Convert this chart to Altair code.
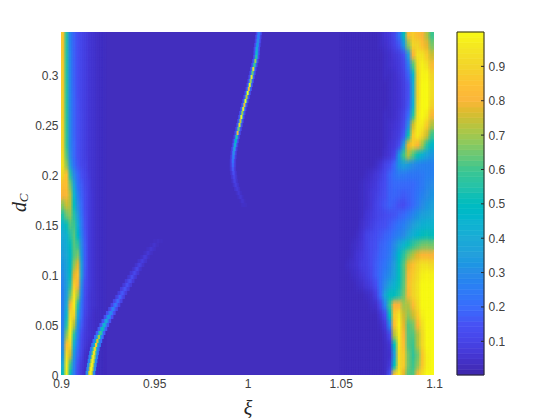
import altair as alt
import pandas as pd

BG = 0.03
ROW_D = [0.34 - 0.01 * i for i in range(35)]
LEFT_START, LEFT_STEP = 0.900, 0.002
RIGHT_START, RIGHT_STEP = 1.05, 0.0025

LEFT = [
 [.87,.55,.27,.18,.14,.11,.09,.07,.055,.045,.04,.035],
 [.87,.55,.27,.18,.14,.11,.09,.07,.055,.045,.04,.035],
 [.87,.55,.28,.18,.14,.11,.09,.07,.055,.045,.04,.035],
 [.88,.55,.28,.18,.14,.11,.09,.07,.055,.045,.04,.035],
 [.88,.55,.28,.18,.14,.11,.09,.07,.055,.045,.04,.035],
 [.88,.56,.28,.18,.14,.11,.09,.07,.055,.045,.04,.035],
 [.89,.56,.28,.19,.14,.11,.09,.07,.055,.045,.04,.035],
 [.89,.56,.28,.19,.15,.11,.09,.07,.055,.045,.04,.035],
 [.89,.57,.29,.19,.15,.12,.09,.07,.055,.045,.04,.035],
 [.90,.57,.29,.19,.15,.12,.09,.07,.055,.045,.04,.035],
 [.90,.58,.29,.19,.15,.12,.09,.07,.055,.045,.04,.035],
 [.90,.58,.29,.20,.15,.12,.09,.07,.055,.045,.04,.035],
 [.92,.62,.30,.20,.15,.12,.09,.07,.055,.045,.04,.035],
 [.94,.68,.35,.22,.16,.12,.10,.07,.055,.045,.04,.035],
 [.90,.85,.55,.30,.20,.15,.11,.08,.055,.045,.04,.035],
 [.84,.84,.65,.38,.22,.17,.12,.09,.055,.045,.04,.035],
 [.80,.82,.72,.45,.27,.18,.13,.09,.06,.045,.04,.035],
 [.68,.75,.72,.50,.30,.20,.13,.09,.06,.045,.04,.035],
 [.55,.65,.68,.55,.35,.22,.14,.09,.06,.045,.04,.035],
 [.45,.52,.62,.60,.42,.25,.15,.09,.06,.045,.04,.035],
 [.40,.45,.55,.62,.48,.27,.16,.09,.06,.045,.04,.035],
 [.38,.42,.50,.62,.58,.30,.17,.09,.06,.045,.04,.035],
 [.35,.40,.47,.62,.66,.33,.17,.09,.06,.045,.04,.035],
 [.33,.38,.47,.68,.78,.35,.17,.09,.06,.045,.04,.035],
 [.30,.37,.50,.78,.85,.35,.16,.09,.06,.045,.04,.035],
 [.28,.36,.55,.88,.80,.30,.14,.09,.06,.045,.04,.035],
 [.27,.36,.65,.95,.70,.27,.13,.08,.055,.045,.04,.035],
 [.27,.40,.82,.97,.55,.22,.12,.08,.055,.045,.04,.035],
 [.27,.45,.92,.90,.40,.20,.10,.07,.05,.04,.04,.035],
 [.27,.55,.97,.72,.32,.17,.09,.06,.05,.04,.035,.03],
 [.28,.68,.97,.55,.27,.14,.08,.06,.05,.04,.035,.03],
 [.30,.85,.90,.42,.22,.12,.07,.05,.04,.04,.035,.03],
 [.33,.93,.75,.33,.18,.10,.05,.04,.04,.04,.035,.03],
 [.40,.97,.60,.28,.15,.08,.05,.04,.04,.04,.035,.03],
 [.50,.97,.50,.25,.13,.07,.04,.04,.04,.04,.035,.03],
]

RIGHT = [
 [.03,.03,.03,.03,.03,.03,.03,.03,.04,.06,.08,.12,.22,.50,.83,.88,.84,.80,.72,.60],
 [.03,.03,.03,.03,.03,.03,.03,.03,.04,.05,.07,.10,.16,.33,.68,.90,.90,.85,.78,.66],
 [.03,.03,.03,.03,.03,.03,.03,.03,.03,.04,.05,.07,.09,.15,.35,.80,.95,.95,.88,.75],
 [.03,.03,.03,.03,.03,.03,.03,.03,.03,.04,.05,.06,.08,.12,.25,.62,.93,.98,.95,.83],
 [.03,.03,.03,.03,.03,.03,.03,.03,.03,.04,.04,.05,.07,.10,.18,.45,.90,.99,.99,.90],
 [.03,.03,.03,.03,.03,.03,.03,.03,.03,.03,.04,.05,.06,.09,.15,.40,.90,1.0,1.0,.93],
 [.03,.03,.03,.03,.03,.03,.03,.03,.03,.03,.04,.05,.06,.09,.15,.40,.90,1.0,1.0,.93],
 [.03,.03,.03,.03,.03,.03,.03,.03,.03,.03,.04,.05,.06,.09,.16,.42,.92,1.0,1.0,.90],
 [.03,.03,.03,.03,.03,.03,.03,.03,.03,.04,.04,.05,.07,.11,.20,.55,.95,1.0,.97,.82],
 [.03,.03,.03,.03,.03,.03,.03,.03,.03,.04,.05,.06,.08,.13,.30,.75,.97,.97,.88,.72],
 [.03,.03,.03,.03,.03,.03,.03,.03,.03,.04,.05,.07,.09,.17,.52,.88,.97,.90,.75,.60],
 [.03,.03,.03,.03,.03,.03,.03,.03,.03,.04,.06,.08,.13,.35,.78,.88,.82,.70,.56,.47],
 [.03,.03,.03,.03,.03,.03,.03,.03,.03,.05,.07,.11,.32,.60,.72,.62,.52,.44,.37,.33],
 [.03,.03,.03,.03,.03,.03,.03,.04,.06,.10,.14,.20,.32,.36,.34,.30,.28,.27,.27,.27],
 [.03,.03,.03,.03,.03,.04,.05,.07,.09,.13,.18,.22,.25,.25,.24,.24,.24,.25,.26,.27],
 [.03,.03,.03,.03,.04,.05,.06,.08,.11,.14,.18,.20,.20,.20,.20,.20,.22,.25,.28,.30],
 [.03,.03,.03,.03,.04,.05,.07,.09,.12,.15,.18,.19,.18,.17,.18,.20,.23,.27,.30,.32],
 [.03,.03,.03,.03,.04,.05,.07,.10,.13,.16,.18,.17,.15,.14,.17,.20,.25,.30,.33,.36],
 [.03,.03,.03,.03,.04,.06,.08,.10,.12,.13,.15,.16,.18,.20,.24,.28,.32,.36,.38,.40],
 [.03,.03,.03,.03,.05,.07,.09,.12,.14,.15,.17,.20,.23,.26,.30,.35,.40,.43,.45,.45],
 [.03,.03,.03,.04,.06,.10,.12,.14,.16,.18,.20,.24,.27,.30,.36,.42,.46,.50,.52,.50],
 [.03,.03,.04,.05,.07,.10,.13,.15,.18,.20,.23,.30,.38,.45,.52,.58,.62,.65,.66,.65],
 [.03,.03,.04,.06,.08,.10,.13,.16,.19,.21,.25,.33,.47,.57,.66,.72,.78,.82,.82,.80],
 [.03,.04,.05,.06,.09,.10,.13,.17,.20,.23,.28,.35,.50,.62,.78,.85,.90,.95,.95,.92],
 [.03,.03,.04,.05,.07,.09,.12,.17,.21,.26,.31,.38,.50,.62,.82,.88,.93,.98,.99,.98],
 [.03,.03,.03,.04,.05,.07,.09,.14,.22,.30,.38,.44,.52,.63,.84,.90,.95,1.0,1.0,1.0],
 [.03,.03,.03,.03,.03,.04,.05,.09,.20,.38,.50,.50,.55,.65,.82,.90,.95,1.0,1.0,1.0],
 [.03,.03,.03,.03,.03,.03,.04,.05,.12,.28,.58,.80,.80,.70,.72,.83,.93,1.0,1.0,1.0],
 [.03,.03,.03,.03,.03,.03,.03,.03,.06,.14,.50,.88,.95,.75,.68,.75,.88,.98,1.0,1.0],
 [.03,.03,.03,.03,.03,.03,.03,.03,.04,.08,.28,.85,.98,.78,.62,.66,.82,.95,1.0,1.0],
 [.03,.03,.03,.03,.03,.03,.03,.03,.03,.05,.12,.72,.97,.82,.62,.62,.72,.92,1.0,1.0],
 [.03,.03,.03,.03,.03,.03,.03,.03,.03,.04,.06,.50,.95,.85,.62,.60,.72,.92,1.0,1.0],
 [.03,.03,.03,.03,.03,.03,.03,.03,.03,.04,.05,.35,.93,.88,.65,.58,.65,.87,.98,1.0],
 [.03,.03,.03,.03,.03,.03,.03,.03,.03,.04,.07,.50,.92,.88,.65,.60,.68,.87,.98,1.0],
 [.03,.03,.03,.03,.03,.03,.03,.03,.03,.04,.15,.85,.97,.78,.62,.62,.82,.95,1.0,1.0],
]

CENTER_D = [.340,.336,.332,.328,.324,.320,.316,.312,.308,.304,.300,.296,.292,.288,.284,.280,.276,.272,.268,.264,.260,.256,.252,.248,.244,.240,.236,.232,.228,.224,.220,.216,.212,.208,.204,.200,.196,.192,.188,.184,.180,.176,.172,.168]
CENTER_XI = [1.0061,1.0058,1.0056,1.0053,1.0050,1.0049,1.0047,1.0042,1.0037,1.0031,1.0027,1.0022,1.0017,1.0012,1.0007,1.0001,.9995,.9989,.9983,.9977,.9972,.9967,.9962,.9957,.9952,.9947,.9942,.9937,.9933,.9929,.9926,.9924,.9922,.9922,.9922,.9925,.9928,.9931,.9937,.9944,.9953,.9962,.9973,.9981]
CENTER_CORE = [.25,.27,.30,.33,.38,.45,.55,.70,.60,.90,.65,.95,.70,.98,.80,1.0,.75,.98,.80,.95,.70,.98,.75,.90,.65,.80,.55,.48,.42,.35,.30,.26,.22,.19,.16,.13,.10,.09,.08,.07,.06,.055,.05,.04]
CENTER_MID = [.20,.20,.22,.24,.26,.28,.30,.32,.32,.35,.32,.35,.32,.35,.33,.35,.32,.35,.33,.35,.32,.35,.32,.33,.30,.30,.27,.25,.23,.20,.18,.16,.14,.12,.10,.09,.08,.07,.065,.06,.05,.05,.045,.04]
CENTER_HALO = [.10,.10,.10,.11,.12,.12,.12,.12,.12,.12,.12,.12,.12,.12,.12,.12,.12,.12,.12,.12,.12,.12,.12,.12,.11,.11,.10,.10,.09,.09,.08,.08,.07,.07,.06,.06,.055,.05,.05,.045,.04,.04,.035,.035]

LOWER_D = [.000,.004,.008,.012,.016,.020,.024,.028,.032,.036,.040,.044,.048,.052,.056,.060,.064,.068,.072,.076,.080,.084,.088,.092,.096,.100,.104,.108,.112,.116,.120,.124,.128,.132]
LOWER_XI = [.9158,.9162,.9165,.9169,.9173,.9177,.9181,.9188,.9195,.9203,.9212,.9222,.9232,.9243,.9255,.9267,.9279,.9292,.9304,.9317,.9329,.9342,.9355,.9368,.9381,.9394,.9407,.9421,.9436,.9451,.9467,.9483,.9500,.9520]
LOWER_CORE = [.98,.98,.97,.96,.95,.93,.90,.85,.78,.70,.60,.52,.45,.38,.33,.29,.26,.23,.20,.18,.16,.15,.14,.13,.12,.11,.10,.09,.08,.07,.06,.055,.05,.04]
LOWER_MID = [.72,.72,.70,.68,.66,.62,.58,.52,.48,.44,.38,.33,.30,.27,.24,.21,.19,.17,.15,.14,.12,.11,.10,.10,.09,.08,.08,.07,.06,.06,.05,.05,.04,.035]
LOWER_HALO = [.30,.30,.30,.28,.27,.26,.25,.24,.22,.20,.18,.17,.16,.15,.14,.13,.11,.10,.10,.09,.08,.08,.07,.07,.06,.06,.05,.05,.05,.04,.04,.04,.035,.035]

CMAP_STOPS = [0,.06,.11,.15,.2,.25,.3,.35,.4,.45,.5,.55,.6,.65,.7,.75,.78,.8,.85,.9,.95,1]
CMAP_COLORS = ["#3e26a8","#4537d5","#4747eb","#4752f4","#3a6cfc","#2f7cf6","#2b8ce8","#249fdc","#1dabd6","#0fb5d0","#05bcbf","#27c2a8","#3ec690","#72c870","#a2c84f","#ccc035","#e8b92f","#fbb63c","#fdc132","#f3d52a","#f4e423","#f9fb15"]
XTICKS = [0.9, 0.95, 1, 1.05, 1.1]
YTICKS = [0, 0.05, 0.1, 0.15, 0.2, 0.25, 0.3]
CTICKS = [0.1,0.2,0.3,0.4,0.5,0.6,0.7,0.8,0.9]
YMAX = 0.343
CMIN = 0.002

# Each table cell is drawn several times, slightly shifted and translucent, so the steps soften.
SHIFTS = [(-.25,-.4,1/2),(.25,-.24,1/3),(-.25,-.08,1/4),(.25,.08,1/5),(-.25,.24,1/6),(.25,.4,1/7)]

base = [dict(x=.9, x2=1.1, y=0, y2=YMAX, v=BG)]
soft = []
for table, start, step in ((LEFT, LEFT_START, LEFT_STEP), (RIGHT, RIGHT_START, RIGHT_STEP)):
    for d, row in zip(ROW_D, table):
        lo, hi = d - .005, d + .005   # each row is centred on the height it was read at
        for k, v in enumerate(row):
            x0, x1 = start + k*step, start + (k+1)*step
            base.append(dict(x=x0, x2=x1, y=max(lo, 0), y2=min(hi + (.01 if d > .335 else 0), YMAX), v=v))
            for (ox, oy, a) in SHIFTS:
                soft.append(dict(x=max(x0+ox*step, .9), x2=x1+ox*step, y=max(lo+oy*.01, 0),
                                 y2=min(hi+oy*.01, YMAX), v=v, a=a))
soft.sort(key=lambda r: -r["a"])

ridges = []
def ridge(ds, xs, vals, hw, h):
    for d, c, v in zip(ds, xs, vals):
        ridges.append(dict(x=c-hw, x2=c+hw, y=d, y2=min(d+h, YMAX), v=v))
ridge(LOWER_D, LOWER_XI, LOWER_HALO, .0026, .004)
ridge(LOWER_D, LOWER_XI, LOWER_MID, .0013, .004)
ridge(LOWER_D, LOWER_XI, LOWER_CORE, .0006, .004)
ridge(CENTER_D, CENTER_XI, CENTER_HALO, .0017, .004)
ridge(CENTER_D, CENTER_XI, CENTER_MID, .0009, .004)
ridge(CENTER_D, CENTER_XI, CENTER_CORE, .0005, .004)

cscale = alt.Scale(domain=CMAP_STOPS, range=CMAP_COLORS, clamp=True)
lab = dict(labelFont="Liberation Sans", labelFontSize=12, labelColor="#404040")

xenc = alt.X("x:Q", scale=alt.Scale(domain=[.9, 1.1], nice=False),
             axis=alt.Axis(values=XTICKS, format="~g", tickSize=0, domain=False, grid=False, labelPadding=3,
                           title="ξ", titleFont="Liberation Serif", titleFontStyle="italic", titleFontSize=20,
                           titleFontWeight="normal", titleColor="#262626", titlePadding=9, labelFlush=False, **lab))
yenc = alt.Y("y:Q", scale=alt.Scale(domain=[0, YMAX], nice=False),
             axis=alt.Axis(values=YTICKS, format="~g", tickSize=0, domain=False, grid=False, labelPadding=3,
                           title=None, labelFlush=False, **lab))
colour = alt.Color("v:Q", scale=cscale, legend=None)

heat0 = alt.Chart(pd.DataFrame(base)).mark_rect(strokeWidth=0.6, clip=True).encode(
    x=xenc, x2="x2:Q", y=yenc, y2="y2:Q", color=colour, stroke=alt.Color("v:Q", scale=cscale, legend=None))
heat1 = alt.Chart(pd.DataFrame(soft)).mark_rect(clip=True).encode(
    x=alt.X("x:Q"), x2="x2:Q", y=alt.Y("y:Q"), y2="y2:Q", color=colour,
    opacity=alt.Opacity("a:Q", scale=None))
heat2 = alt.Chart(pd.DataFrame(ridges)).mark_rect(clip=True).encode(
    x=alt.X("x:Q"), x2="x2:Q", y=alt.Y("y:Q"), y2="y2:Q", color=colour)

yd = alt.Chart(pd.DataFrame({"t": ["d"]})).mark_text(
    font="Liberation Serif", fontStyle="italic", fontSize=20, angle=270, color="#262626").encode(
    x=alt.value(-41), y=alt.value(175), text="t:N")
yc = alt.Chart(pd.DataFrame({"t": ["C"]})).mark_text(
    font="Liberation Serif", fontStyle="italic", fontSize=13, angle=270, color="#262626").encode(
    x=alt.value(-37), y=alt.value(166), text="t:N")
main = alt.layer(heat0, heat1, heat2, yd, yc).properties(width=373, height=343)

levels = [CMIN + (1-CMIN)*i/64 for i in range(65)]
cb = pd.DataFrame({"y": levels[:-1], "y2": levels[1:], "v": [(a+b)/2 for a, b in zip(levels[:-1], levels[1:])]})
bar = alt.Chart(cb).mark_rect(strokeWidth=0.6).encode(
    y=alt.Y("y:Q", scale=alt.Scale(domain=[CMIN, 1], nice=False),
            axis=alt.Axis(orient="right", values=CTICKS, format="~g", tickSize=0, domain=False, grid=False,
                          labelPadding=4, title=None, **lab)),
    y2="y2:Q",
    x=alt.value(0), x2=alt.value(27),
    color=alt.Color("v:Q", scale=cscale, legend=None),
    stroke=alt.Color("v:Q", scale=cscale, legend=None),
)
ticks = alt.Chart(pd.DataFrame({"y": CTICKS})).mark_rule(color="#262626", strokeWidth=1).encode(
    y=alt.Y("y:Q"), x=alt.value(24), x2=alt.value(27))
frame = alt.Chart(pd.DataFrame({"y": [CMIN], "y2": [1]})).mark_rect(fill=None, stroke="#262626", strokeWidth=1).encode(
    y=alt.Y("y:Q"), y2="y2:Q", x=alt.value(0), x2=alt.value(27))
colorbar = alt.layer(bar, ticks, frame).properties(width=27, height=343)

chart = alt.hconcat(main, colorbar, spacing=13).resolve_scale(color="independent").properties(
    padding={"left": 2, "top": 23, "right": 0, "bottom": 0}, background="white"
).configure_view(stroke=None)

chart.save("out.html", embed_options={"renderer": "svg", "actions": False})
